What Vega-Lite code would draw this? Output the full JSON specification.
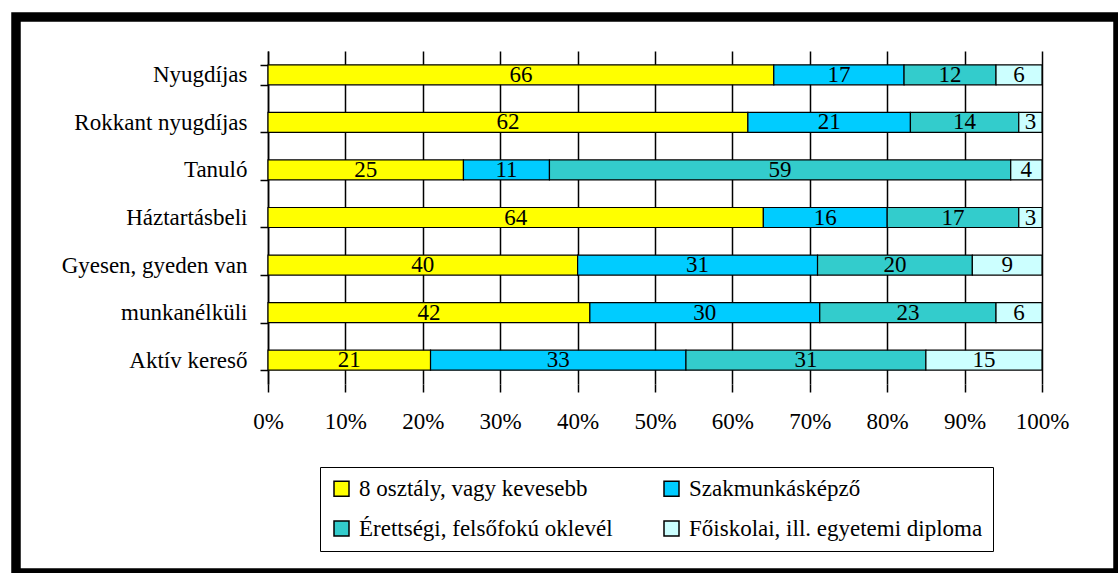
{
  "$schema": "https://vega.github.io/schema/vega-lite/v6.json",
  "width": 1102,
  "height": 556,
  "autosize": {"type": "none"},
  "padding": {"left": 16, "top": 17, "right": 0, "bottom": 0},
  "background": "white",
  "config": {
    "view": {"stroke": "black", "strokeWidth": 9.5},
    "font": "Liberation Serif"
  },
  "data": {
    "values": [
      {"status": "Nyugdíjas", "level": "8 osztály, vagy kevesebb", "value": 66, "k": 1},
      {"status": "Nyugdíjas", "level": "Szakmunkásképző", "value": 17, "k": 2},
      {"status": "Nyugdíjas", "level": "Érettségi, felsőfokú oklevél", "value": 12, "k": 3},
      {"status": "Nyugdíjas", "level": "Főiskolai, ill. egyetemi diploma", "value": 6, "k": 4},
      {"status": "Rokkant nyugdíjas", "level": "8 osztály, vagy kevesebb", "value": 62, "k": 1},
      {"status": "Rokkant nyugdíjas", "level": "Szakmunkásképző", "value": 21, "k": 2},
      {"status": "Rokkant nyugdíjas", "level": "Érettségi, felsőfokú oklevél", "value": 14, "k": 3},
      {"status": "Rokkant nyugdíjas", "level": "Főiskolai, ill. egyetemi diploma", "value": 3, "k": 4},
      {"status": "Tanuló", "level": "8 osztály, vagy kevesebb", "value": 25, "k": 1},
      {"status": "Tanuló", "level": "Szakmunkásképző", "value": 11, "k": 2},
      {"status": "Tanuló", "level": "Érettségi, felsőfokú oklevél", "value": 59, "k": 3},
      {"status": "Tanuló", "level": "Főiskolai, ill. egyetemi diploma", "value": 4, "k": 4},
      {"status": "Háztartásbeli", "level": "8 osztály, vagy kevesebb", "value": 64, "k": 1},
      {"status": "Háztartásbeli", "level": "Szakmunkásképző", "value": 16, "k": 2},
      {"status": "Háztartásbeli", "level": "Érettségi, felsőfokú oklevél", "value": 17, "k": 3},
      {"status": "Háztartásbeli", "level": "Főiskolai, ill. egyetemi diploma", "value": 3, "k": 4},
      {"status": "Gyesen, gyeden van", "level": "8 osztály, vagy kevesebb", "value": 40, "k": 1},
      {"status": "Gyesen, gyeden van", "level": "Szakmunkásképző", "value": 31, "k": 2},
      {"status": "Gyesen, gyeden van", "level": "Érettségi, felsőfokú oklevél", "value": 20, "k": 3},
      {"status": "Gyesen, gyeden van", "level": "Főiskolai, ill. egyetemi diploma", "value": 9, "k": 4},
      {"status": "munkanélküli", "level": "8 osztály, vagy kevesebb", "value": 42, "k": 1},
      {"status": "munkanélküli", "level": "Szakmunkásképző", "value": 30, "k": 2},
      {"status": "munkanélküli", "level": "Érettségi, felsőfokú oklevél", "value": 23, "k": 3},
      {"status": "munkanélküli", "level": "Főiskolai, ill. egyetemi diploma", "value": 6, "k": 4},
      {"status": "Aktív kereső", "level": "8 osztály, vagy kevesebb", "value": 21, "k": 1},
      {"status": "Aktív kereső", "level": "Szakmunkásképző", "value": 33, "k": 2},
      {"status": "Aktív kereső", "level": "Érettségi, felsőfokú oklevél", "value": 31, "k": 3},
      {"status": "Aktív kereső", "level": "Főiskolai, ill. egyetemi diploma", "value": 15, "k": 4}
    ]
  },
  "encoding": {
    "y": {
      "field": "status",
      "type": "nominal",
      "sort": ["Nyugdíjas", "Rokkant nyugdíjas", "Tanuló", "Háztartásbeli", "Gyesen, gyeden van", "munkanélküli", "Aktív kereső"],
      "scale": {"range": [34, 367], "paddingInner": 0.58, "paddingOuter": 0.29},
      "axis": {
        "title": null,
        "orient": "left",
        "offset": -252,
        "grid": false,
        "domainColor": "black",
        "domainWidth": 1.5,
        "tickColor": "black",
        "tickWidth": 1.5,
        "tickSize": 8,
        "tickBand": "extent",
        "labelFontSize": 23,
        "labelColor": "black",
        "labelPadding": 13,
        "labelLimit": 300
      }
    },
    "order": {"field": "k", "type": "quantitative"}
  },
  "layer": [
    {
      "mark": {"type": "bar", "stroke": "black", "strokeWidth": 1.2},
      "encoding": {
        "x": {
          "field": "value",
          "type": "quantitative",
          "stack": "normalize",
          "scale": {"domain": [0, 1], "range": [252, 1026]},
          "axis": {
            "orient": "top",
            "title": null,
            "grid": true,
            "gridColor": "black",
            "gridWidth": 1.5,
            "gridOpacity": 1,
            "domain": false,
            "ticks": false,
            "labels": false,
            "values": [0, 0.1, 0.2, 0.3, 0.4, 0.5, 0.6, 0.7, 0.8, 0.9, 1]
          }
        },
        "color": {
          "field": "level",
          "type": "nominal",
          "scale": {
            "domain": ["8 osztály, vagy kevesebb", "Szakmunkásképző", "Érettségi, felsőfokú oklevél", "Főiskolai, ill. egyetemi diploma"],
            "range": ["#FFFF00", "#00CCFF", "#33CCCC", "#CCFFFF"]
          },
          "legend": {
            "title": null,
            "orient": "none",
            "direction": "horizontal",
            "legendX": 304,
            "legendY": 450,
            "columns": 2,
            "columnPadding": 47,
            "rowPadding": 16,
            "padding": 10,
            "symbolType": "square",
            "symbolSize": 225,
            "symbolOpacity": 1,
            "labelOffset": 6,
            "labelFontSize": 23,
            "labelColor": "black",
            "labelLimit": 400,
            "strokeColor": "black",
            "encode": {
              "legend": {"update": {"stroke": {"value": "black"}, "strokeWidth": {"value": 1.5}}},
              "symbols": {"update": {"stroke": {"value": "black"}, "strokeWidth": {"value": 1.5}}}
            }
          }
        }
      }
    },
    {
      "mark": {"type": "text", "fontSize": 23, "color": "black", "baseline": "middle", "align": "center"},
      "encoding": {
        "x": {
          "field": "value",
          "type": "quantitative",
          "stack": "normalize",
          "bandPosition": 0.5,
          "scale": {"domain": [0, 1], "range": [252, 1026]},
          "axis": {
            "orient": "bottom",
            "offset": -189,
            "title": null,
            "grid": false,
            "domain": false,
            "ticks": true,
            "tickColor": "black",
            "tickWidth": 1.5,
            "tickSize": 8,
            "labelFontSize": 23,
            "labelColor": "black",
            "labelPadding": 18,
            "labelFlush": false,
            "labelOverlap": false,
            "format": ".0%",
            "values": [0, 0.1, 0.2, 0.3, 0.4, 0.5, 0.6, 0.7, 0.8, 0.9, 1]
          }
        },
        "text": {"field": "value", "type": "quantitative"}
      }
    }
  ],
  "resolve": {"axis": {"x": "independent"}}
}
